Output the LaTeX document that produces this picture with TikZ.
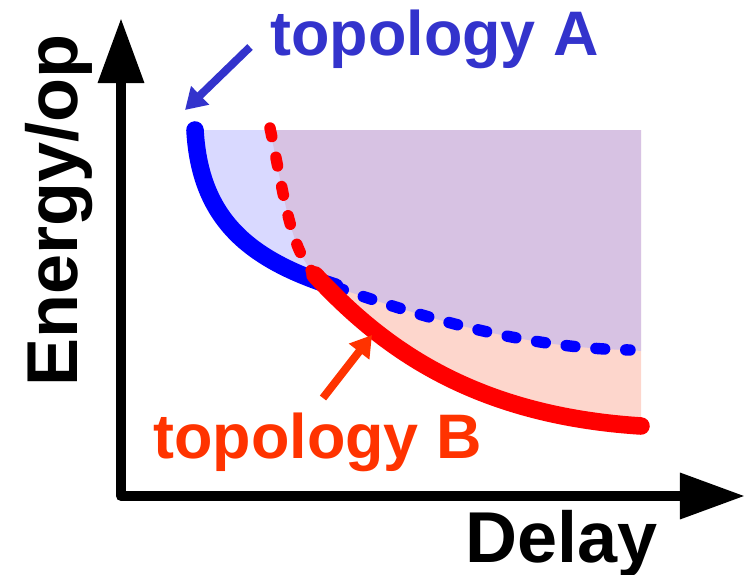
\documentclass[tikz,border=0pt]{standalone}
\usepackage{fontspec}
\setmainfont{Liberation Sans}
\usetikzlibrary{arrows.meta}
\definecolor{topoblue}{RGB}{0,0,255}
\definecolor{topored}{RGB}{255,0,0}
\definecolor{labblue}{RGB}{51,51,204}
\definecolor{labred}{RGB}{255,51,0}
\definecolor{bluefill}{RGB}{170,170,255}
\definecolor{redfill}{RGB}{253,214,204}

\begin{document}
\begin{tikzpicture}[x=0.02cm, y=-0.02cm,
  axisline/.style={line width=5.7pt, line join=round,
    {Triangle[length=37pt,width=25pt]}-{Triangle[length=37pt,width=25pt]}},
  callout/.style={line width=4.5pt, -{Triangle[length=12pt,width=14pt]}},
  biglabel/.style={font=\fontsize{41}{41}\selectfont\bfseries, inner sep=0pt},
  toplabel/.style={font=\fontsize{35.8}{36}\selectfont\bfseries, inner sep=0pt},
  solidcurve/.style={line width=10pt, line cap=round},
  dashcurve/.style={line width=6.5pt, line cap=round, dash pattern=on 5pt off 12pt}]
  \useasboundingbox (0,0) rectangle (748,575);

  % shaded regions above each front
  \fill[redfill] (270,130) .. controls (285,200) and (290,248) .. (315,275)
    .. controls (380,345) and (470,415) .. (641,426) -- (641,130) -- cycle;
  \fill[bluefill, fill opacity=0.45] (195,130) .. controls (200,220) and (250,260) .. (335,287)
    .. controls (420,316) and (520,348) .. (630,350) -- (641,351) -- (641,130) -- cycle;

  % axes
  \coordinate (ytop) at (121,18);
  \coordinate (origin) at (121,496);
  \coordinate (xend) at (745,496);
  \draw[axisline] (ytop) -- (origin) -- (xend);
  \node[biglabel, rotate=90, anchor=base west] (ylab) at (77,387) {Energy/op};
  \node[biglabel, anchor=base west] (xlab) at (465,562) {Delay};

  % topology A
  \coordinate (ajoin) at (335,287);
  \draw[solidcurve, topoblue] (195,130) .. controls (200,220) and (250,260) .. (ajoin);
  \draw[dashcurve, topoblue] (ajoin) .. controls (420,316) and (520,348) .. (630,350);

  % topology B
  \coordinate (bjoin) at (315,275);
  \draw[dashcurve, topored] (270,128) .. controls (285,200) and (290,248) .. (bjoin);
  \draw[solidcurve, topored] (bjoin) .. controls (380,345) and (470,415) .. (641,426);

  % labels and pointers
  \node[toplabel, text=labblue, anchor=base west] (labA) at (270,55) {topology A};
  \node[toplabel, text=labred, anchor=base west] (labB) at (153,458) {topology B};
  \coordinate (tailA) at (250,47);
  \coordinate (tipA) at (185,110);
  \coordinate (tailB) at (323,398);
  \coordinate (tipB) at (372,335);
  \draw[callout, labblue] (tailA) -- (tipA);
  \draw[callout, labred] (tailB) -- (tipB);
\end{tikzpicture}
\end{document}
